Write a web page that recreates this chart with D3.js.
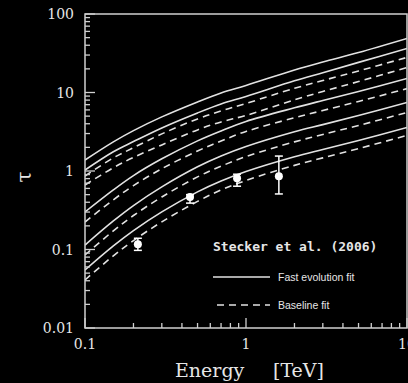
<!DOCTYPE html>
<html>
<head>
<meta charset="utf-8">
<script src="https://cdn.jsdelivr.net/npm/d3@7"></script>
<style>
  html, body { margin: 0; padding: 0; background: #000; }
  svg { display: block; }
</style>
</head>
<body>
<svg id="chart" width="408" height="383"></svg>
<script>
let energies = [0.1, 0.15, 0.2, 0.3, 0.5, 0.7, 1, 2, 3, 5, 10];

// optical depth, fast evolution fit (solid), highest to lowest redshift
let fast1 = [1.38, 2.35, 3.27, 4.89, 7.58, 9.87, 12.3, 19.4, 24.5, 32.3, 48.8];
let fast2 = [1.03, 1.76, 2.37, 3.54, 5.49, 7.14, 8.90, 14.1, 17.9, 24.2, 36.4];
let fast3 = [0.301, 0.575, 0.875, 1.43, 2.42, 3.24, 4.28, 6.38, 7.91, 10.3, 15.1];
let fast4 = [0.114, 0.231, 0.363, 0.627, 1.13, 1.55, 2.05, 3.16, 3.90, 5.09, 7.46];
let fast5 = [0.0548, 0.111, 0.174, 0.301, 0.542, 0.746, 0.986, 1.52, 1.88, 2.45, 3.59];

// baseline fit (dashed)
let base1 = [0.863, 1.47, 1.98, 2.97, 4.61, 5.82, 7.25, 11.3, 14.2, 18.8, 28.0];
let base2 = [0.664, 1.10, 1.49, 2.15, 3.34, 4.22, 5.10, 8.07, 10.3, 13.8, 20.8];
let base3 = [0.224, 0.430, 0.652, 1.07, 1.80, 2.41, 3.19, 4.77, 5.90, 7.69, 11.2];
let base4 = [0.0851, 0.173, 0.271, 0.467, 0.841, 1.15, 1.53, 2.35, 2.92, 3.80, 5.57];
let base5 = [0.0409, 0.0832, 0.130, 0.225, 0.410, 0.573, 0.758, 1.18, 1.47, 1.93, 2.84];

// measured points
let pointE = [0.213, 0.449, 0.88, 1.60];
let pointTau = [0.117, 0.467, 0.81, 0.86];
let pointLo = [0.0975, 0.39, 0.64, 0.51];
let pointHi = [0.139, 0.50, 0.91, 1.55];

let yTickLabels = ['0.01', '0.1', '1', '10', '100'];
let xTickLabels = ['0.1', '1', '10'];

let colorLine = '#e2e2e2';
let colorAxis = '#d0d0d0';
let colorText = '#e6e6e6';

let svg = d3.select('#chart');
let plotL = 85, plotR = 407, plotT = 14, plotB = 328;

let x = d3.scaleLog().domain([0.1, 10]).range([plotL, plotR]);
let y = d3.scaleLog().domain([0.01, 100]).range([plotB, plotT]);

svg.append('rect').attr('width', 408).attr('height', 383).attr('fill', '#000');

svg.append('clipPath').attr('id', 'plot')
    .append('rect').attr('x', plotL).attr('y', plotT)
    .attr('width', plotR - plotL).attr('height', plotB - plotT);

let line = d3.line()
    .x(d => x(d[0]))
    .y(d => y(d[1]))
    .curve(d3.curveCatmullRom.alpha(0.5));

function drawCurve(values, dashed) {
    svg.append('path')
        .datum(energies.map((e, i) => [e, values[i]]))
        .attr('clip-path', 'url(#plot)')
        .attr('d', line)
        .attr('fill', 'none')
        .attr('stroke', colorLine)
        .attr('stroke-width', 1.6)
        .attr('stroke-dasharray', dashed ? '7,5' : null);
}

[fast1, fast2, fast3, fast4, fast5].forEach(v => drawCurve(v, false));
[base1, base2, base3, base4, base5].forEach(v => drawCurve(v, true));

// error bars and points
let pts = svg.append('g');
pointE.forEach((e, i) => {
    let cx = x(e);
    pts.append('line')
        .attr('x1', cx).attr('x2', cx)
        .attr('y1', y(pointHi[i])).attr('y2', y(pointLo[i]))
        .attr('stroke', '#fff').attr('stroke-width', 1.5);
    [pointHi[i], pointLo[i]].forEach(v => {
        pts.append('line')
            .attr('x1', cx - 4).attr('x2', cx + 4)
            .attr('y1', y(v)).attr('y2', y(v))
            .attr('stroke', '#fff').attr('stroke-width', 1.5);
    });
    pts.append('circle')
        .attr('cx', cx).attr('cy', y(pointTau[i]))
        .attr('r', 4).attr('fill', '#fff');
});

// frame
svg.append('rect')
    .attr('x', plotL).attr('y', plotT)
    .attr('width', plotR - plotL).attr('height', plotB - plotT)
    .attr('fill', 'none').attr('stroke', colorAxis).attr('stroke-width', 1.5);

function isMajor(v) {
    return Math.abs(Math.log10(v) - Math.round(Math.log10(v))) < 1e-6;
}

// inward ticks, left and bottom
svg.append('g').selectAll('line')
    .data(y.ticks())
    .join('line')
    .attr('x1', plotL).attr('x2', d => plotL + (isMajor(d) ? 10 : 5))
    .attr('y1', d => y(d)).attr('y2', d => y(d))
    .attr('stroke', colorAxis).attr('stroke-width', 1.3);

svg.append('g').selectAll('line')
    .data(x.ticks())
    .join('line')
    .attr('x1', d => x(d)).attr('x2', d => x(d))
    .attr('y1', plotB).attr('y2', d => plotB - (isMajor(d) ? 10 : 5))
    .attr('stroke', colorAxis).attr('stroke-width', 1.3);

// tick labels
svg.append('g').selectAll('text')
    .data(yTickLabels)
    .join('text')
    .attr('x', plotL - 11)
    .attr('y', d => y(+d) + 5)
    .attr('text-anchor', 'end')
    .attr('font-family', 'DejaVu Serif')
    .attr('font-size', 14)
    .attr('fill', colorText)
    .text(d => d);

svg.append('g').selectAll('text')
    .data(xTickLabels)
    .join('text')
    .attr('x', d => x(+d))
    .attr('y', 349)
    .attr('text-anchor', 'middle')
    .attr('font-family', 'DejaVu Serif')
    .attr('font-size', 14)
    .attr('fill', colorText)
    .text(d => d);

// axis titles
svg.append('text')
    .attr('x', 175).attr('y', 377)
    .attr('font-family', 'DejaVu Serif')
    .attr('font-size', 19)
    .attr('fill', colorText)
    .text('Energy');
svg.append('text')
    .attr('x', 273).attr('y', 377)
    .attr('font-family', 'DejaVu Serif')
    .attr('font-size', 19)
    .attr('fill', colorText)
    .text('[TeV]');

svg.append('text')
    .attr('transform', 'translate(31,177) rotate(-90)')
    .attr('text-anchor', 'middle')
    .attr('font-family', 'DejaVu Serif')
    .attr('font-size', 20)
    .attr('fill', colorText)
    .text('τ');

// legend
svg.append('text')
    .attr('x', 213).attr('y', 251)
    .attr('font-family', 'DejaVu Sans Mono')
    .attr('font-weight', 'bold')
    .attr('font-size', 13)
    .attr('fill', colorText)
    .text('Stecker et al. (2006)');

svg.append('line')
    .attr('x1', 213).attr('x2', 270).attr('y1', 277).attr('y2', 277)
    .attr('stroke', colorLine).attr('stroke-width', 1.6);
svg.append('line')
    .attr('x1', 217).attr('x2', 270).attr('y1', 305).attr('y2', 305)
    .attr('stroke', colorLine).attr('stroke-width', 1.6)
    .attr('stroke-dasharray', '7,5');

svg.append('text')
    .attr('x', 278).attr('y', 281)
    .attr('font-family', 'Liberation Sans')
    .attr('font-size', 10.5)
    .attr('fill', colorText)
    .text('Fast evolution fit');
svg.append('text')
    .attr('x', 278).attr('y', 309)
    .attr('font-family', 'Liberation Sans')
    .attr('font-size', 10.5)
    .attr('fill', colorText)
    .text('Baseline fit');
</script>
</body>
</html>
